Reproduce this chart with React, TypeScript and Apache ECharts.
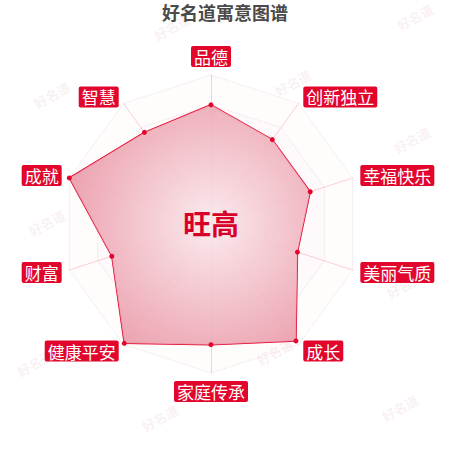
import { useRef, useEffect } from 'react'
import * as echarts from 'echarts'

// 维度（顺时针，从顶部开始）与得分
const dimensions = ['品德', '创新独立', '幸福快乐', '美丽气质', '成长', '家庭传承', '健康平安', '财富', '成就', '智慧']
const scores = [80, 70, 70, 61, 97, 81, 99, 70, 100, 76]
const maxScore = 100
const nameText = '旺高'
const titleText = '好名道寓意图谱'
const watermarkText = '好名道'

const FONT = '"Noto Sans CJK SC", "Noto Sans", sans-serif'
const RED = '#e2062c'

// 水印位置
const watermarks: [number, number][] = [
  [172, 27], [415, 17], [52, 95], [293, 83], [412, 140],
  [47, 223], [280, 225], [168, 283], [405, 285], [35, 363],
  [275, 352], [160, 418], [400, 408]
]

export default function App() {
  const chartRef = useRef<HTMLDivElement>(null)

  useEffect(() => {
    document.body.style.margin = '0'
    if (!chartRef.current) return
    const chart = echarts.init(chartRef.current, undefined, { renderer: 'svg' })

    // echarts 雷达图按逆时针排列，这里转换顺序
    const order = [0, ...dimensions.map((_, i) => i).slice(1).reverse()]
    const indicator = order.map((i) => ({ name: dimensions[i], max: maxScore }))
    const values = order.map((i) => scores[i])

    const cx = 211
    const cy = 224
    const r = 149

    chart.setOption({
      animation: false,
      backgroundColor: '#fff',
      title: {
        text: titleText,
        left: 'center',
        top: 2,
        padding: 0,
        textStyle: {
          fontFamily: FONT,
          fontSize: 18,
          lineHeight: 20,
          fontWeight: 'bold',
          color: '#4a4a4a',
          textShadowColor: 'rgba(235,120,140,0.6)',
          textShadowOffsetX: 1,
          textShadowOffsetY: 1
        }
      },
      radar: {
        center: [cx, cy],
        radius: r,
        startAngle: 90,
        splitNumber: 5,
        shape: 'polygon',
        nameGap: 8,
        indicator,
        axisName: {
          color: '#fff',
          backgroundColor: RED,
          borderRadius: 2,
          padding: [2, 3],
          fontSize: 17,
          lineHeight: 17,
          fontFamily: FONT
        },
        axisLine: { lineStyle: { color: 'rgba(240,140,160,0.4)', width: 1 } },
        splitLine: { lineStyle: { color: 'rgba(210,170,178,0.35)', type: 'dotted', width: 1 } },
        splitArea: { areaStyle: { color: ['rgba(235,90,110,0.02)', 'rgba(235,90,110,0.035)'] } }
      },
      graphic: [
        ...watermarks.map(([x, y]) => ({
          type: 'text',
          x,
          y,
          rotation: 0.5,
          silent: true,
          z: 0,
          style: {
            text: watermarkText,
            fill: 'rgba(215,150,160,0.15)',
            font: `bold 13px ${FONT}`,
            align: 'center',
            verticalAlign: 'middle'
          }
        })),
        {
          type: 'text',
          x: cx,
          y: 223,
          z: 100,
          style: {
            text: nameText,
            fill: '#d8002a',
            font: `bold 28px ${FONT}`,
            align: 'center',
            verticalAlign: 'middle'
          }
        }
      ],
      series: [
        {
          type: 'radar',
          symbol: 'circle',
          symbolSize: 5,
          lineStyle: { color: RED, width: 1.5 },
          itemStyle: { color: RED },
          areaStyle: {
            color: new echarts.graphic.RadialGradient(cx, cy, r, [
              { offset: 0, color: 'rgba(250,234,237,0.9)' },
              { offset: 0.45, color: 'rgba(243,195,204,0.88)' },
              { offset: 1, color: 'rgba(233,150,165,0.88)' }
            ], true),
            opacity: 1
          },
          data: [{ value: values, name: nameText }]
        }
      ]
    })

    return () => chart.dispose()
  }, [])

  return <div ref={chartRef} style={{ width: 450, height: 450 }} />
}
